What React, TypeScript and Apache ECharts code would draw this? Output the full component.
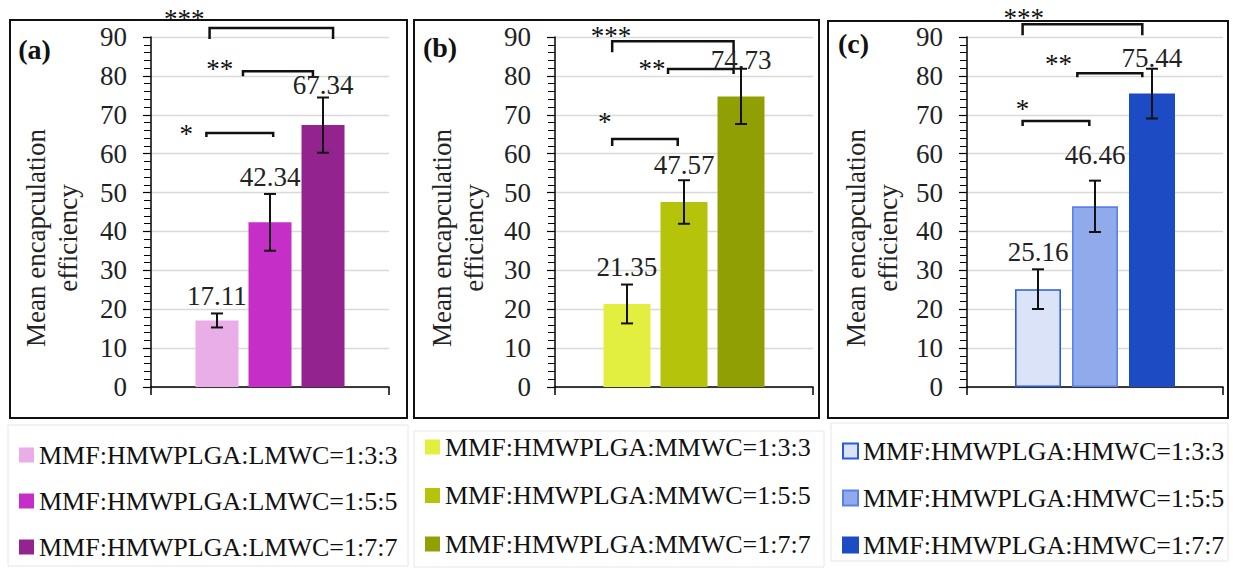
import React, { useEffect, useRef } from 'react';
import * as echarts from 'echarts';

// ---------- data ----------
const panelLetters = ['(a)', '(b)', '(c)'];
const seriesNamesA = ['MMF:HMWPLGA:LMWC=1:3:3', 'MMF:HMWPLGA:LMWC=1:5:5', 'MMF:HMWPLGA:LMWC=1:7:7'];
const seriesNamesB = ['MMF:HMWPLGA:MMWC=1:3:3', 'MMF:HMWPLGA:MMWC=1:5:5', 'MMF:HMWPLGA:MMWC=1:7:7'];
const seriesNamesC = ['MMF:HMWPLGA:HMWC=1:3:3', 'MMF:HMWPLGA:HMWC=1:5:5', 'MMF:HMWPLGA:HMWC=1:7:7'];
const valuesA = [17.11, 42.34, 67.34];
const valuesB = [21.35, 47.57, 74.73];
const valuesC = [25.16, 46.46, 75.44];
const errorsA = [1.8, 7.3, 7.1];
const errorsB = [5.0, 5.6, 7.1];
const errorsC = [5.1, 6.6, 6.4];
const yMin = 0;
const yMax = 90;
const yInterval = 10;
const yAxisTitle = 'Mean encapculation\nefficiency';
const sigLabels = ['*', '**', '***'];
// significance bracket heights (value units)
const sigLevelsA = [65.3, 81.2, 92.3];
const sigLevelsB = [63.8, 81.8, 88.9];
const sigLevelsC = [68.4, 80.7, 93.3];

// ---------- style / layout ----------
const FONT = 'Liberation Serif';
const colorsA = ['#e9ade7', '#c62fc7', '#92238f'];
const colorsB = ['#e3ef3e', '#b6c30b', '#90a004'];
const colorsC = ['#dae3f7', '#91aaec', '#1c4bc4'];
const bordersC = ['#2b5bd7', '#5a82e6', '#1c4bc4'];

const panels = [
  {
    letter: panelLetters[0], names: seriesNamesA, values: valuesA, errors: errorsA, colors: colorsA,
    borders: null as null | string[],
    levels: sigLevelsA,
    grid: { left: 151, top: 37, width: 238, height: 350 },
    barWidth: 43, gap: 10,
    labelDist: [11, 32, 27.5],
    spans: [[-0.2, 1.06], [0.49, 1.81], [-0.14, 2.19]],
    drops: [4, 5, 11],
    stars: [[-0.58, 66.1], [0.05, 82.8], [-0.62, 95.7]],
    frame: { x: 10, y: 20, width: 397, height: 398 },
    letterPos: [34.5, 49],
    titleX: 52,
    legend: { left: 19, top: 442, itemGap: 20 },
    legendBox: { x: 8, y: 425, width: 400, height: 141 },
  },
  {
    letter: panelLetters[1], names: seriesNamesB, values: valuesB, errors: errorsB, colors: colorsB,
    borders: null as null | string[],
    levels: sigLevelsB,
    grid: { left: 555, top: 37, width: 258, height: 350 },
    barWidth: 47, gap: 10,
    labelDist: [23.5, 24, 23.4],
    spans: [[-0.26, 0.89], [0.72, 1.87], [-0.26, 1.87]],
    drops: [7, 5, 11],
    stars: [[-0.39, 69.2], [0.44, 82.8], [-0.28, 91.3]],
    frame: { x: 414, y: 20, width: 405, height: 398 },
    letterPos: [440, 47],
    titleX: 458,
    legend: { left: 425, top: 434, itemGap: 22.5 },
    legendBox: { x: 414, y: 431, width: 410, height: 136 },
  },
  {
    letter: panelLetters[2], names: seriesNamesC, values: valuesC, errors: errorsC, colors: colorsC,
    borders: bordersC as null | string[],
    levels: sigLevelsC,
    grid: { left: 967, top: 37, width: 256, height: 350 },
    barWidth: 46, gap: 11,
    labelDist: [24.5, 38, 23],
    spans: [[-0.27, 0.9], [0.69, 1.83], [-0.27, 1.83]],
    drops: [5, 4, 11],
    stars: [[-0.27, 72.5], [0.36, 84.1], [-0.25, 95.9]],
    frame: { x: 828, y: 21, width: 400, height: 397 },
    letterPos: [853.5, 43],
    titleX: 872,
    legend: { left: 842, top: 438, itemGap: 21 },
    legendBox: { x: 831, y: 423, width: 397, height: 138 },
  },
];

function buildOption() {
  const grid: any[] = [];
  const xAxis: any[] = [];
  const yAxis: any[] = [];
  const series: any[] = [];
  const legend: any[] = [];
  const graphic: any[] = [];

  panels.forEach((p, gi) => {
    grid.push({ ...p.grid, containLabel: false });
    xAxis.push({
      gridIndex: gi,
      type: 'category',
      data: [''],
      axisLine: { show: true, lineStyle: { color: '#000', width: 1.5 } },
      axisTick: { show: true, length: 8, lineStyle: { color: '#000', width: 1.5 } },
      axisLabel: { show: false },
      splitLine: { show: false },
    });
    yAxis.push({
      gridIndex: gi,
      type: 'value',
      min: yMin,
      max: yMax,
      interval: yInterval,
      axisLine: { show: true, lineStyle: { color: '#000', width: 1.5 } },
      axisTick: { show: true, length: 8, lineStyle: { color: '#000', width: 1.2 } },
      minorTick: { show: true, splitNumber: 5, length: 7, lineStyle: { color: '#000', width: 1 } },
      splitLine: { show: true, lineStyle: { color: '#d9d9d9', width: 1.3 } },
      axisLabel: { fontFamily: FONT, fontSize: 27, color: '#222', margin: 24 },
    });

    const step = p.barWidth + p.gap;
    const gapPct = ((p.gap / p.barWidth) * 100).toFixed(1) + '%';

    p.names.forEach((name, k) => {
      series.push({
        type: 'bar',
        name,
        xAxisIndex: gi,
        yAxisIndex: gi,
        barWidth: p.barWidth,
        barGap: gapPct,
        itemStyle: {
          color: p.colors[k],
          borderColor: p.borders ? p.borders[k] : p.colors[k],
          borderWidth: p.borders ? 1.6 : 0,
        },
        label: {
          show: true,
          position: 'top',
          distance: p.labelDist[k],
          formatter: (prm: any) => Number(prm.value).toFixed(2),
          fontFamily: FONT,
          fontSize: 27,
          lineHeight: 26,
          color: '#222',
        },
        data: [p.values[k]],
        z: 2,
      });
    });

    // error bars
    series.push({
      type: 'custom',
      name: 'err' + gi,
      xAxisIndex: gi,
      yAxisIndex: gi,
      clip: false,
      z: 5,
      data: p.values.map((v, k) => [0, v - p.errors[k], v + p.errors[k]]),
      renderItem: (params: any, api: any) => {
        const k = params.dataIndex;
        const lo = api.coord([0, api.value(1)]);
        const hi = api.coord([0, api.value(2)]);
        const x = lo[0] + (k - 1) * step;
        const cap = 6;
        const st = { stroke: '#111', lineWidth: 2 };
        return {
          type: 'group',
          children: [
            { type: 'line', shape: { x1: x, y1: lo[1], x2: x, y2: hi[1] }, style: st },
            { type: 'line', shape: { x1: x - cap, y1: lo[1], x2: x + cap, y2: lo[1] }, style: st },
            { type: 'line', shape: { x1: x - cap, y1: hi[1], x2: x + cap, y2: hi[1] }, style: st },
          ],
        };
      },
    });

    // significance brackets
    series.push({
      type: 'custom',
      name: 'sig' + gi,
      xAxisIndex: gi,
      yAxisIndex: gi,
      clip: false,
      z: 6,
      data: p.levels.map((lv) => [0, lv]),
      renderItem: (params: any, api: any) => {
        const i = params.dataIndex;
        const c = api.coord([0, api.value(1)]);
        const x1 = c[0] + (p.spans[i][0] - 1) * step;
        const x2 = c[0] + (p.spans[i][1] - 1) * step;
        const y = c[1];
        const d = p.drops[i];
        const sc = api.coord([0, p.stars[i][1]]);
        const sx = sc[0] + (p.stars[i][0] - 1) * step;
        return {
          type: 'group',
          children: [
            {
              type: 'polyline',
              shape: { points: [[x1, y + d], [x1, y], [x2, y], [x2, y + d]] },
              style: { stroke: '#111', lineWidth: 2.5, fill: 'none' },
            },
            {
              type: 'text',
              x: sx,
              y: sc[1] + 4,
              style: {
                text: sigLabels[i],
                fontFamily: FONT,
                fontSize: 27,
                fill: '#111',
                textAlign: 'center',
                textVerticalAlign: 'middle',
              },
            },
          ],
        };
      },
    });

    legend.push({
      data: p.names,
      orient: 'vertical',
      left: p.legend.left,
      top: p.legend.top,
      itemWidth: 15,
      itemHeight: 15,
      itemGap: p.legend.itemGap,
      icon: 'rect',
      selectedMode: false,
      padding: 0,
      textStyle: { fontFamily: FONT, fontSize: 26, lineHeight: 26, color: '#111' },
    });

    graphic.push({
      type: 'rect',
      shape: { ...p.frame },
      style: { fill: 'none', stroke: '#111', lineWidth: 2 },
      z: 10,
      silent: true,
    });
    graphic.push({
      type: 'rect',
      shape: { ...p.legendBox },
      style: { fill: 'none', stroke: '#e6e6e6', lineWidth: 1 },
      z: 0,
      silent: true,
    });
    graphic.push({
      type: 'text',
      x: p.letterPos[0],
      y: p.letterPos[1],
      style: {
        text: p.letter,
        fontFamily: FONT,
        fontSize: 28,
        fontWeight: 'bold',
        fill: '#111',
        textAlign: 'center',
        textVerticalAlign: 'middle',
      },
      z: 10,
    });
    graphic.push({
      type: 'text',
      x: p.titleX,
      y: 238,
      rotation: Math.PI / 2,
      style: {
        text: yAxisTitle,
        fontFamily: FONT,
        fontSize: 27,
        lineHeight: 32,
        fill: '#222',
        textAlign: 'center',
        textVerticalAlign: 'middle',
      },
      z: 10,
    });
  });

  return {
    animation: false,
    backgroundColor: '#ffffff',
    grid,
    xAxis,
    yAxis,
    series,
    legend,
    graphic,
  };
}

export default function App() {
  const ref = useRef<HTMLDivElement>(null);
  useEffect(() => {
    if (!ref.current) return;
    const chart = echarts.init(ref.current, undefined, { renderer: 'svg' });
    chart.setOption(buildOption() as any);
    return () => chart.dispose();
  }, []);
  return (
    <div
      ref={ref}
      style={{ position: 'fixed', left: 0, top: 0, width: 1233, height: 569, background: '#fff' }}
    />
  );
}
